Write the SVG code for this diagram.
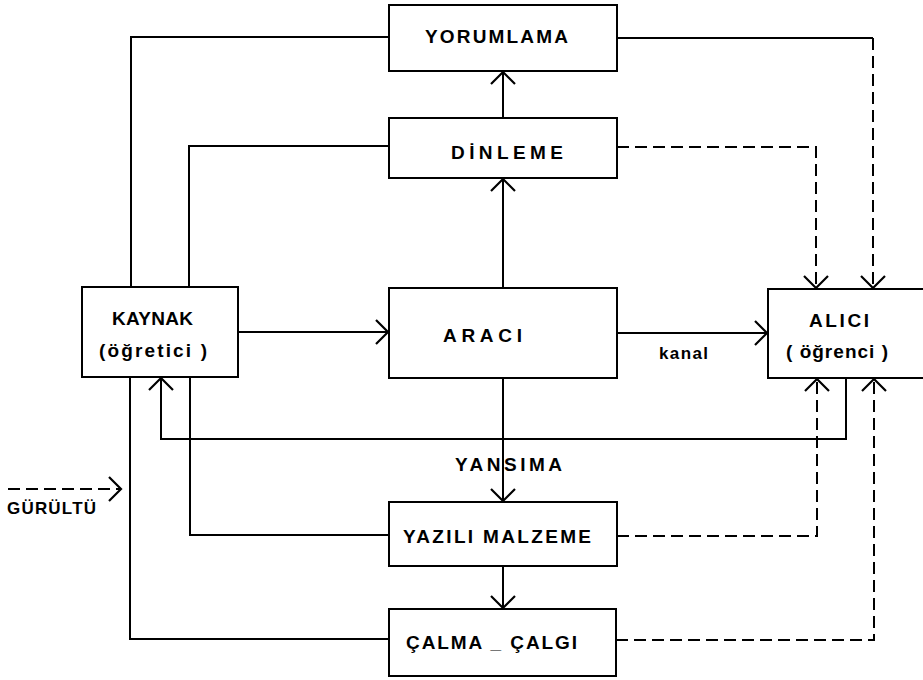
<svg xmlns="http://www.w3.org/2000/svg" width="923" height="680" viewBox="0 0 923 680">
<defs>
<style>
.box{fill:#fff;stroke:#000;stroke-width:2}
.ln{fill:none;stroke:#000;stroke-width:2}
.ds{fill:none;stroke:#000;stroke-width:2;stroke-dasharray:12,6}
.t{font-family:"Liberation Sans",Arial,sans-serif;font-weight:bold;font-size:19px;fill:#000}
.s{font-family:"Liberation Sans",Arial,sans-serif;font-weight:bold;font-size:17px;fill:#000}
</style>
<marker id="ah" markerUnits="userSpaceOnUse" markerWidth="16" markerHeight="26" refX="13" refY="13" orient="auto" viewBox="0 0 16 26">
<path d="M1,1 L13,13 L1,25" fill="none" stroke="#000" stroke-width="2.2"/>
</marker>
</defs>
<rect width="923" height="680" fill="#fff"/>
<g id="connectors">
<polyline class="ln" points="131,287 131,37 389,37"/>
<polyline class="ln" points="189,287 189,146 389,146"/>
<polyline class="ln" points="617,38 873,38"/>
<polyline class="ds" points="873,38 873,288" marker-end="url(#ah)"/>
<polyline class="ds" points="617,147 816,147 816,288" marker-end="url(#ah)"/>
<polyline class="ln" points="503,118 503,72" marker-end="url(#ah)"/>
<polyline class="ln" points="503,288 503,179" marker-end="url(#ah)"/>
<polyline class="ln" points="238,332 388,332" marker-end="url(#ah)"/>
<polyline class="ln" points="617,333 767,333" marker-end="url(#ah)"/>
<polyline class="ln" points="846,378 846,439 161,439 161,378" marker-end="url(#ah)"/>
<polyline class="ln" points="190,377 190,535 389,535"/>
<polyline class="ln" points="130,377 130,639 389,639"/>
<polyline class="ln" points="503,378 503,501" marker-end="url(#ah)"/>
<polyline class="ln" points="503,566 503,608" marker-end="url(#ah)"/>
<polyline class="ds" points="617,536 817,536 817,379" marker-end="url(#ah)"/>
<polyline class="ds" points="616,640 874,640 874,379" marker-end="url(#ah)"/>
<polyline class="ds" points="8,489 121,489" stroke-dasharray="14,5" marker-end="url(#ah)"/>
</g>
<g id="yorumlama">
<rect class="box" x="389" y="5" width="228" height="66"/>
<text class="t" x="425" y="43" textLength="143" lengthAdjust="spacing">YORUMLAMA</text>
</g>
<g id="dinleme">
<rect class="box" x="389" y="118" width="228" height="60"/>
<text class="t" x="451" y="159" textLength="112" lengthAdjust="spacing">DİNLEME</text>
</g>
<g id="kaynak">
<rect class="box" x="82" y="287" width="156" height="90"/>
<text class="t" x="112" y="325" textLength="81" lengthAdjust="spacing">KAYNAK</text>
<text class="t" x="99" y="357" textLength="108" lengthAdjust="spacing">(öğretici )</text>
</g>
<g id="araci">
<rect class="box" x="389" y="288" width="228" height="90"/>
<text class="t" x="443" y="342" textLength="79" lengthAdjust="spacing">ARACI</text>
</g>
<g id="alici">
<rect class="box" x="768" y="289" width="170" height="89"/>
<text class="t" x="809" y="327" textLength="60" lengthAdjust="spacing">ALICI</text>
<text class="t" x="786" y="358" textLength="102" lengthAdjust="spacing">( öğrenci )</text>
</g>
<g id="yazili">
<rect class="box" x="389" y="502" width="228" height="64"/>
<text class="t" x="403" y="543" textLength="188" lengthAdjust="spacing">YAZILI  MALZEME</text>
</g>
<g id="calma">
<rect class="box" x="389" y="609" width="227" height="67"/>
<text class="t" x="406" y="649" textLength="171" lengthAdjust="spacing">ÇALMA _ ÇALGI</text>
</g>
<g id="labels">
<text class="s" x="659" y="359" textLength="49" lengthAdjust="spacing">kanal</text>
<text class="t" x="455" y="471" textLength="107" lengthAdjust="spacing">YANSIMA</text>
<text class="s" x="7" y="514" textLength="89" lengthAdjust="spacing">GÜRÜLTÜ</text>
</g>
</svg>
